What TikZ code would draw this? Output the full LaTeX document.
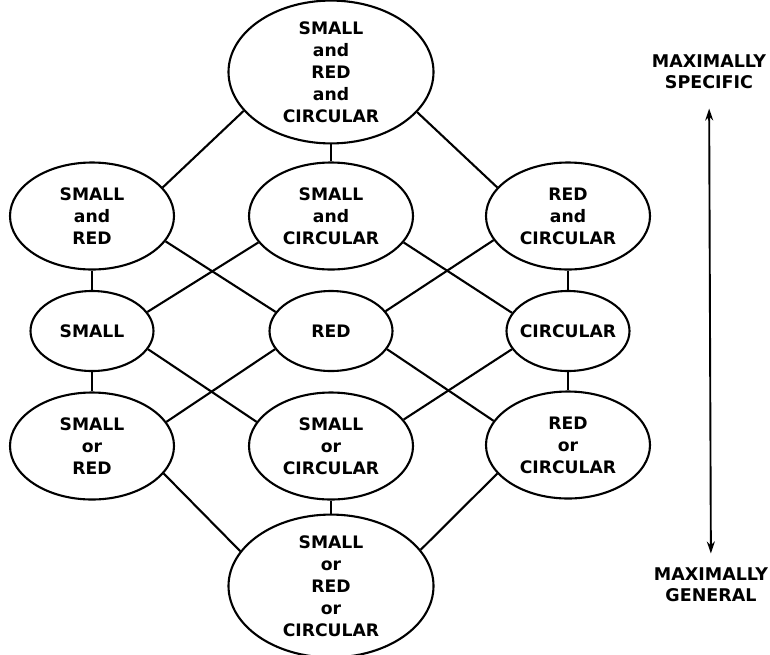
\documentclass[tikz,border=0pt]{standalone}
\usepackage{fontspec}
\setsansfont{DejaVu Sans}
\usetikzlibrary{positioning,arrows.meta,shapes.geometric}

\begin{document}
\begin{tikzpicture}[
  x=1pt, y=-1pt,
  concept/.style={ellipse, draw, line width=2.1pt, inner sep=0pt, align=center,
    font=\sffamily\bfseries\fontsize{17.2}{22}\selectfont},
  big/.style={concept, minimum width=205pt, minimum height=131pt},
  mid/.style={concept, minimum width=164pt, minimum height=107pt},
  little/.style={concept, inner xsep=-6pt, minimum width=123pt, minimum height=80pt},
  scale label/.style={align=center, font=\sffamily\bfseries\fontsize{17.5}{21}\selectfont},
  link/.style={line width=2.1pt}
]
\useasboundingbox (0,0) rectangle (770,654);
\node[big] (sandrandc) at (331,72) {SMALL\\and\\RED\\and\\CIRCULAR};
\node[mid, below of=sandrandc, node distance=144pt] (sandc) {SMALL\\and\\CIRCULAR};
\node[mid, left of=sandc, node distance=239pt] (sandr) {SMALL\\and\\RED};
\node[mid, right of=sandc, node distance=237pt] (randc) {RED\\and\\CIRCULAR};

\node[little, below of=sandr, node distance=115pt] (small) {SMALL};
\node[little, below of=sandc, node distance=115pt] (red) {RED};
\node[little, below of=randc, node distance=115pt] (circ) {CIRCULAR};

\node[mid, below of=small, node distance=115pt] (sorr) {SMALL\\or\\RED};
\node[mid, below of=red, node distance=115pt] (sorc) {SMALL\\or\\CIRCULAR};
\node[mid, below of=circ, node distance=114pt] (rorc) {RED\\or\\CIRCULAR};

\node[big, below of=sorc, node distance=140pt] (sorrorc) {SMALL\\or\\RED\\or\\CIRCULAR};

\node[scale label] (specific) at (709,72) {MAXIMALLY\\SPECIFIC};
\node[scale label] (general) at (711,585) {MAXIMALLY\\GENERAL};

% most specific down to single features
\draw[link] (sandrandc.204) -- (sandr.22);
\draw[link] (sandrandc) -- (sandc);
\draw[link] (sandrandc.335) -- (randc.158);
\draw[link] (sandr) -- (small);
\draw[link] (sandr.341) -- (red.161);
\draw[link] (sandc.200) -- (small.19);
\draw[link] (sandc.340) -- (circ.162);
\draw[link] (randc.198) -- (red.20);
\draw[link] (randc) -- (circ);

% single features down to most general
\draw[link] (small) -- (sorr);
\draw[link] (small.342) -- (sorc.162);
\draw[link] (red.198) -- (sorr.18);
\draw[link] (red.342) -- (rorc.162);
\draw[link] (circ.198) -- (sorc.20);
\draw[link] (circ) -- (rorc);
\draw[link] (sorr.339) -- (sorrorc.159);
\draw[link] (sorc) -- (sorrorc);
\draw[link] (rorc.202) -- (sorrorc.22);

\draw[line width=1.9pt, {Stealth[length=12pt,width=8pt]}-{Stealth[length=12pt,width=8pt]},
  shorten <=16pt, shorten >=11pt] (specific) -- (general);
\end{tikzpicture}
\end{document}
